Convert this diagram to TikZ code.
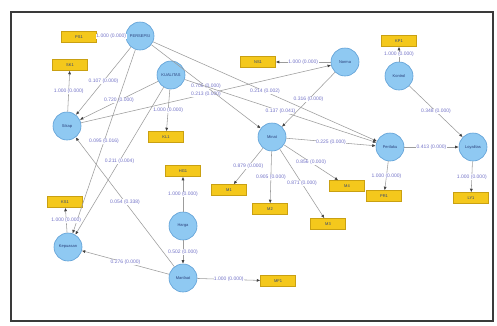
\documentclass[tikz,border=0pt]{standalone}
\usepackage{fontspec}
\setmainfont{Liberation Sans}
\usetikzlibrary{arrows.meta}
\definecolor{circF}{HTML}{8FC9F2}
\definecolor{circB}{HTML}{5E9FD6}
\definecolor{boxF}{HTML}{F4C81C}
\definecolor{boxB}{HTML}{C9A012}
\definecolor{lineC}{HTML}{9C9C9C}
\definecolor{labC}{HTML}{7373C8}
\definecolor{txtB}{HTML}{2A3F7A}
\definecolor{frameC}{HTML}{3A3A3A}
\begin{document}
\begin{tikzpicture}[x=1pt,y=-1pt,
  lv/.style={circle,draw=circB,line width=0.6pt,fill=circF,minimum size=28pt,inner sep=0pt,
    font=\fontsize{4}{4}\selectfont,text=txtB},
  mv/.style={rectangle,draw=boxB,line width=0.5pt,fill=boxF,minimum width=35pt,minimum height=11pt,
    inner sep=0pt,font=\fontsize{4}{4}\selectfont,text=txtB},
  pth/.style={draw=lineC,line width=0.55pt,-{Latex[length=3.5pt,width=3pt,color=black!75]}},
  lab/.style={font=\fontsize{5}{5}\selectfont,text=labC,fill=white,inner sep=0.4pt}
]
\useasboundingbox (0,0) rectangle (497,325);
\fill[white] (0,0) rectangle (497,325);
\draw[frameC,line width=1.6pt] (11,12) rectangle (493,321);

% latent variables
\node[lv] (A) at (140,36) {PERSEPSI};
\node[lv] (B) at (171,75) {KUALITAS};
\node[lv] (C) at (67,126) {Sikap};
\node[lv] (D) at (345,62) {Norma};
\node[lv] (E) at (399,76) {Kontrol};
\node[lv] (F) at (272,137) {Minat};
\node[lv] (G) at (390,147) {Perilaku};
\node[lv] (H) at (473,147) {Loyalitas};
\node[lv] (I) at (68,247) {Kepuasan};
\node[lv] (J) at (183,226) {Harga};
\node[lv] (K) at (183,278) {Manfaat};

% indicators
\node[mv] (bA) at (79,37) {PS1};
\node[mv] (bC) at (70,65) {SK1};
\node[mv] (bB) at (166,137) {KL1};
\node[mv] (bD) at (258,62) {NS1};
\node[mv] (bE) at (399,41) {KP1};
\node[mv] (bF1) at (229,190) {M1};
\node[mv] (bF2) at (270,209) {M2};
\node[mv] (bF3) at (328,224) {M3};
\node[mv] (bF4) at (347,186) {M4};
\node[mv] (bG) at (384,196) {PR1};
\node[mv] (bH) at (471,198) {LY1};
\node[mv] (bK) at (278,281) {MF1};
\node[mv] (bJ) at (183,171) {HG1};
\node[mv] (bI) at (65,202) {KS1};

% structural paths
\draw[pth] (A) -- node[lab]{0.107 (0.000)} (C);
\draw[pth] (B) -- node[lab]{0.720 (0.000)} (C);
\draw[pth] (A) -- node[lab]{0.095 (0.016)} (I);
\draw[pth] (B) -- node[lab]{0.211 (0.004)} (I);
\draw[pth] (K) -- node[lab]{0.054 (0.338)} (C);
\draw[pth] (K) -- node[lab]{0.276 (0.000)} (I);
\draw[pth] (J) -- node[lab]{0.502 (0.000)} (K);
\draw[pth] (C) -- node[lab]{0.213 (0.000)} (D);
\draw[pth] (A) -- node[lab]{0.706 (0.000)} (F);
\draw[pth] (A) -- node[lab]{0.214 (0.002)} (G);
\draw[pth] (B) -- node[lab]{0.137 (0.041)} (G);
\draw[pth] (D) -- node[lab]{0.316 (0.000)} (F);
\draw[pth] (F) -- node[lab]{0.225 (0.000)} (G);
\draw[pth] (G) -- node[lab]{0.413 (0.000)} (H);
\draw[pth] (E) -- node[lab]{0.348 (0.000)} (H);

% outer loadings
\draw[pth] (A) -- node[lab]{1.000 (0.000)} (bA);
\draw[pth] (C) -- node[lab]{1.000 (0.000)} (bC);
\draw[pth] (B) -- node[lab]{1.000 (0.000)} (bB);
\draw[pth] (D) -- node[lab]{1.000 (0.000)} (bD);
\draw[pth] (E) -- node[lab]{1.000 (0.000)} (bE);
\draw[pth] (F) -- node[lab]{0.879 (0.000)} (bF1);
\draw[pth] (F) -- node[lab]{0.905 (0.000)} (bF2);
\draw[pth] (F) -- node[lab]{0.871 (0.000)} (bF3);
\draw[pth] (F) -- node[lab]{0.856 (0.000)} (bF4);
\draw[pth] (G) -- node[lab]{1.000 (0.000)} (bG);
\draw[pth] (H) -- node[lab]{1.000 (0.000)} (bH);
\draw[pth] (K) -- node[lab]{1.000 (0.000)} (bK);
\draw[pth] (J) -- node[lab]{1.000 (0.000)} (bJ);
\draw[pth] (I) -- node[lab]{1.000 (0.000)} (bI);
\end{tikzpicture}
\end{document}
